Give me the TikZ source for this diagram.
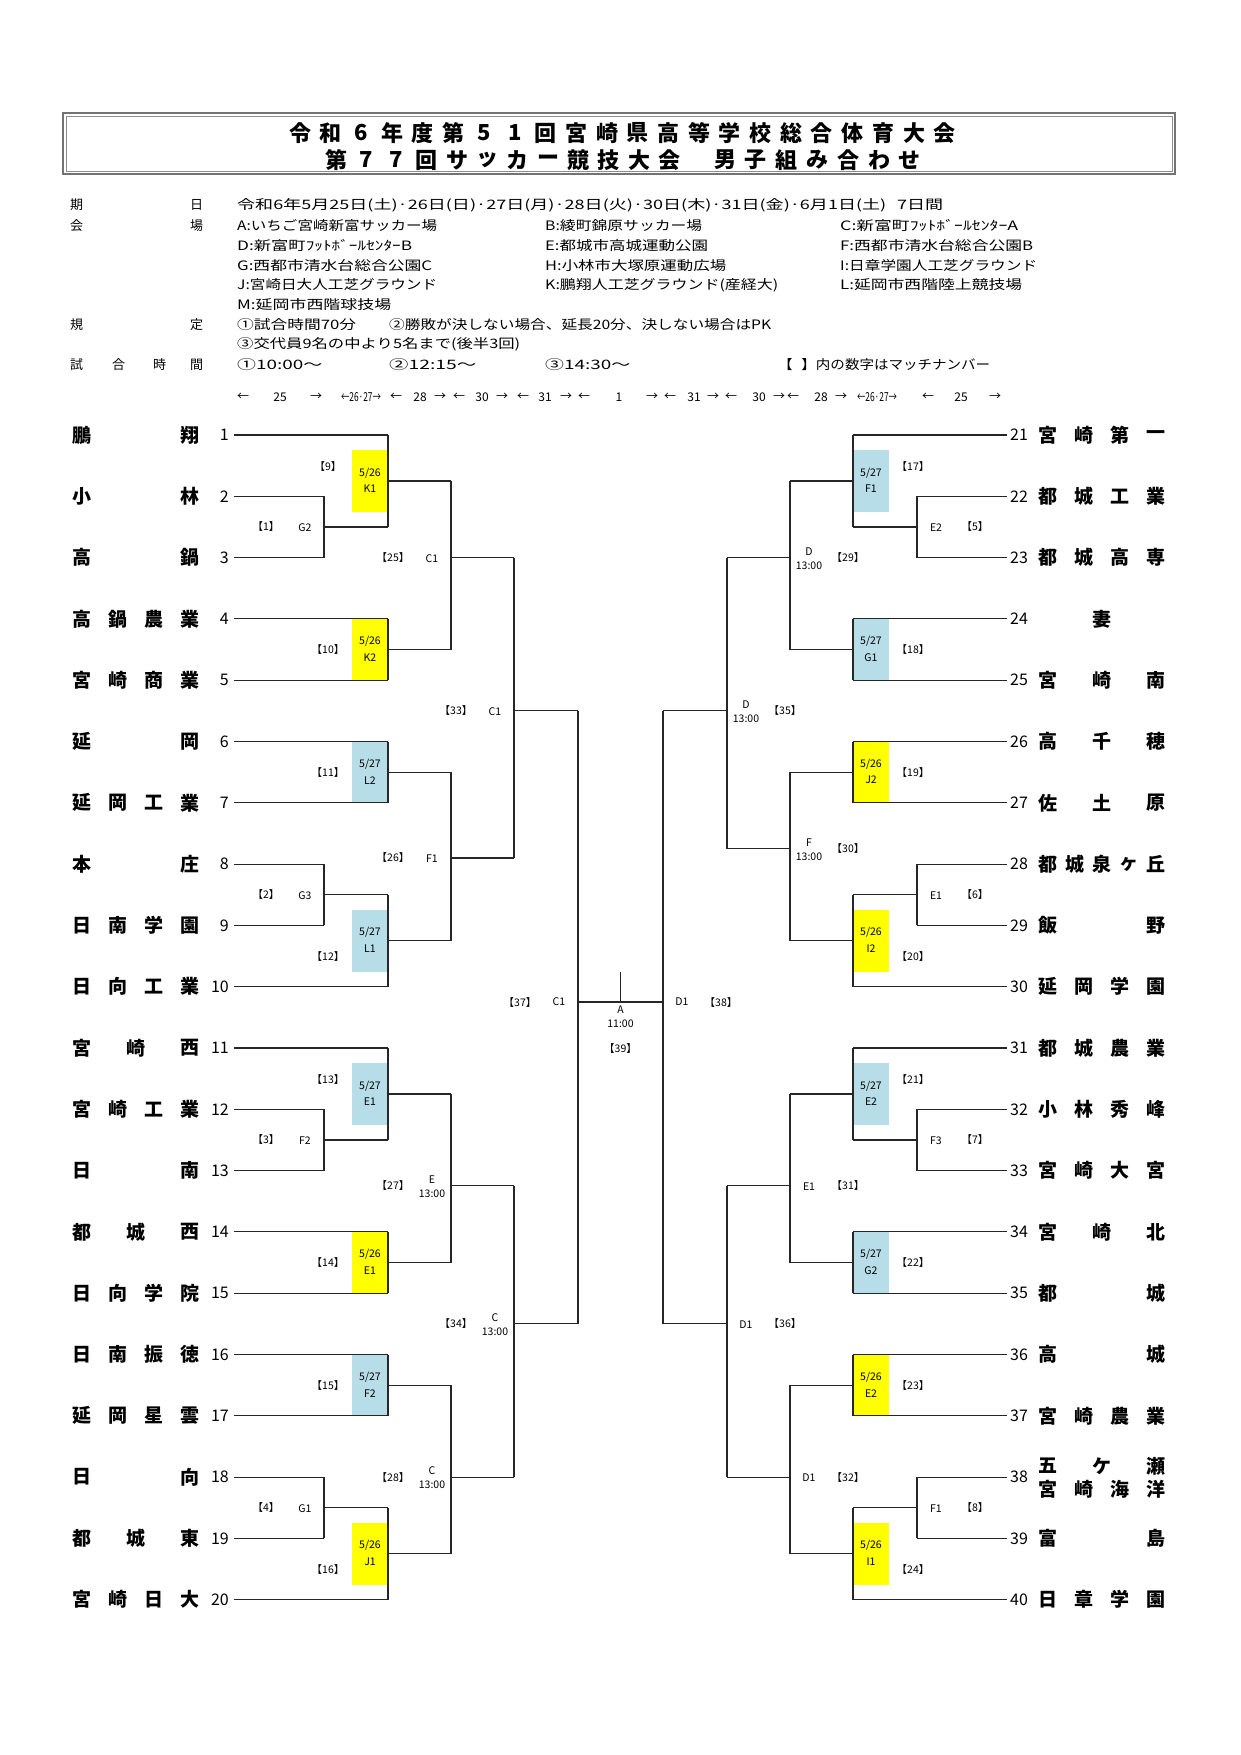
\documentclass[tikz,border=0pt]{standalone}
\usepackage{fontspec}
\usepackage{graphicx}
\setmainfont{Noto Sans CJK JP}
\definecolor{bxy}{HTML}{FFFF00}
\definecolor{bxb}{HTML}{B7DDE8}
\pgfmathdeclarefunction{R}{1}{\pgfmathparse{435+(#1-1)*61.3}}
\tikzset{
  ln/.style={line width=1.1pt, black!85},
  sm/.style={font=\fontsize{10.5}{14}\selectfont, inner sep=0pt, align=center},
  nm/.style={font=\fontsize{19}{19}\selectfont\bfseries, inner sep=0pt},
  nu/.style={font=\fontsize{16}{16}\selectfont, inner sep=0pt},
  inf/.style={font=\fontsize{13}{13}\selectfont, inner sep=0pt, anchor=west},
  tt/.style={font=\fontsize{22}{22}\selectfont\bfseries, inner sep=0pt},
  ar/.style={font=\fontsize{12}{12}\selectfont, inner sep=0pt}
}
% match with explicit output row: x, xout, ra, rb, rout, num, venue
\newcommand\gmo[7]{%
  \pgfmathsetmacro\ya{R(#3)}\pgfmathsetmacro\yb{R(#4)}\pgfmathsetmacro\ym{R(#5)}%
  \draw[ln] (#1,\ya) -- (#1,\yb);
  \draw[ln] (#1,\ym) -- (#2,\ym);
  \node[sm] at (#1-58,\ym) {【#6】};
  \node[sm] at (#1-19,\ym+1) {#7};}
% generic match at midpoint
\newcommand\gm[6]{\gmo{#1}{#2}{#3}{#4}{(#3+#4)/2}{#5}{#6}}
% box match: ra, rb, num, date, venue, colour, label offset
\newcommand\bm[7]{%
  \pgfmathsetmacro\ya{R(#1)}\pgfmathsetmacro\yb{R(#2)}\pgfmathsetmacro\ym{(\ya+\yb)/2}%
  \fill[#6] (352,\ym-31) rectangle (388,\ym+31);
  \draw[ln] (388,\ya) -- (388,\yb);
  \draw[ln] (388,\ym) -- (451,\ym);
  \node[sm] at (370,\ym-8) {#4};
  \node[sm] at (370,\ym+8) {#5};
  \node[sm] at (328,\ym+#7) {【#3】};}
\newcommand\teamlines{%
  \foreach \r/\x in {1/388,2/324,3/324,4/388,5/388,6/388,7/388,8/324,9/324,10/388,11/388,12/324,13/324,14/388,15/388,16/388,17/388,18/324,19/324,20/388}
    \draw[ln] (234,{R(\r)}) -- (\x,{R(\r)});}
% team name: x of first char, y, count, chars
\newcommand\tmn[4]{\pgfmathsetmacro\ty{#2}\foreach \c [count=\i] in {#4}{\node[nm] at ({#1+(\i-1)*108/(#3-1)},\ty) {\c};}}
\newcommand\rb[2]{\resizebox{#1pt}{11pt}{#2}}
\begin{document}
\begin{tikzpicture}[x=1pt,y=-1pt]
\useasboundingbox[fill=white] (0,0) rectangle (1240,1755);
% header
\draw[black!55, line width=1.2pt] (63,113) rectangle (1175,174);
\draw[black!45, line width=0.8pt] (66,116) rectangle (1172,171);
\foreach \c [count=\i] in {令,和,6,年,度,第,5,1,回,宮,崎,県,高,等,学,校,総,合,体,育,大,会}
  \node[tt] at ({300+(\i-1)*30.7},133) {\c};
\foreach \c [count=\i] in {第,7,7,回,サ,ッ,カ,ー,競,技,大,会}
  \node[tt] at ({336+(\i-1)*30.3},160) {\c};
\foreach \c [count=\i] in {男,子,組,み,合,わ,せ}
  \node[tt] at ({725+(\i-1)*30.8},160) {\c};
% info block
\foreach \a/\b/\y in {期/日/205,会/場/226,規/定/325}{
  \node[inf] at (70,\y) {\a}; \node[inf] at (190,\y) {\b};}
\foreach \a/\x in {試/70,合/112,時/153,間/190} \node[inf] at (\x,365) {\a};
\node[inf] at (237,205) {\rb{706}{令和6年5月25日(土)·26日(日)·27日(月)·28日(火)·30日(木)·31日(金)·6月1日(土)\hspace{0.6em}7日間}};
\node[inf] at (237,226) {\rb{200}{A:いちご宮崎新富サッカー場}};
\node[inf] at (545,226) {\rb{157}{B:綾町錦原サッカー場}};
\node[inf] at (840,226) {\rb{178}{C:新富町ﾌｯﾄﾎﾞｰﾙｾﾝﾀｰA}};
\node[inf] at (237,246) {\rb{175}{D:新富町ﾌｯﾄﾎﾞｰﾙｾﾝﾀｰB}};
\node[inf] at (545,246) {\rb{163}{E:都城市高城運動公園}};
\node[inf] at (840,246) {\rb{193}{F:西都市清水台総合公園B}};
\node[inf] at (237,266) {\rb{195}{G:西都市清水台総合公園C}};
\node[inf] at (545,266) {\rb{181}{H:小林市大塚原運動広場}};
\node[inf] at (840,266) {\rb{197}{I:日章学園人工芝グラウンド}};
\node[inf] at (237,285) {\rb{200}{J:宮崎日大人工芝グラウンド}};
\node[inf] at (545,285) {\rb{233}{K:鵬翔人工芝グラウンド(産経大)}};
\node[inf] at (840,285) {\rb{182}{L:延岡市西階陸上競技場}};
\node[inf] at (237,305) {\rb{154}{M:延岡市西階球技場}};
\node[inf] at (237,325) {\rb{119}{①試合時間70分}};
\node[inf] at (389,325) {\rb{382}{②勝敗が決しない場合、延長20分、決しない場合はPK}};
\node[inf] at (237,344) {\rb{283}{③交代員9名の中より5名まで(後半3回)}};
\node[inf] at (237,365) {\rb{85}{①10:00～}};
\node[inf] at (389,365) {\rb{87}{②12:15～}};
\node[inf] at (545,365) {\rb{85}{③14:30～}};
\node[inf] at (778,365) {\rb{212}{【\hspace{0.6em}】内の数字はマッチナンバー}};
\foreach \x/\t in {243/←,280/25,316/→,396/←,420/28,440/→,459/←,482/30,502/→,523/←,545/31,566/→,584/←,619/1,652/→,670/←,694/31,713/→,731/←,759/30,779/→,793/←,821/28,841/→,928/←,961/25,995/→}
  \node[ar] at (\x,397) {\t};
\node[ar] at (361,397) {\resizebox{40pt}{9pt}{←26·27→}};
\node[ar] at (877,397) {\resizebox{40pt}{9pt}{←26·27→}};
% ---- left half
\begin{scope}
\bm{1}{2.5}{9}{5/26}{K1}{bxy}{-14}
\bm{4}{5}{10}{5/26}{K2}{bxy}{0}
\bm{6}{7}{11}{5/27}{L2}{bxb}{0}
\bm{8.5}{10}{12}{5/27}{L1}{bxb}{16}
\bm{11}{12.5}{13}{5/27}{E1}{bxb}{-14}
\bm{14}{15}{14}{5/26}{E1}{bxy}{0}
\bm{16}{17}{15}{5/27}{F2}{bxb}{0}
\bm{18.5}{20}{16}{5/26}{J1}{bxy}{16}
\gm{324}{388}{2}{3}{1}{G2}
\gm{324}{388}{8}{9}{2}{G3}
\gm{324}{388}{12}{13}{3}{F2}
\gm{324}{388}{18}{19}{4}{G1}
\gmo{451}{514}{1.75}{4.5}{3}{25}{C1}
\gmo{451}{514}{6.5}{9.25}{7.9}{26}{F1}
\gmo{451}{514}{11.75}{14.5}{13.25}{27}{E\\13:00}
\gmo{451}{514}{16.5}{19.25}{18}{28}{C\\13:00}
\gmo{514}{578}{3}{7.9}{5.5}{33}{C1}
\gmo{514}{578}{13.25}{18}{15.5}{34}{C\\13:00}
\teamlines
\draw[ln] (578,{R(5.5)}) -- (578,{R(15.5)});
\draw[ln] (578,1002) -- (620.5,1002);
\node[sm] at (520,1002) {【37】};
\node[sm] at (559,1002) {C1};
\end{scope}
% ---- right half (mirrored)
\begin{scope}[xshift=1241pt, xscale=-1]
\bm{1}{2.5}{17}{5/27}{F1}{bxb}{-14}
\bm{4}{5}{18}{5/27}{G1}{bxb}{0}
\bm{6}{7}{19}{5/26}{J2}{bxy}{0}
\bm{8.5}{10}{20}{5/26}{I2}{bxy}{16}
\bm{11}{12.5}{21}{5/27}{E2}{bxb}{-14}
\bm{14}{15}{22}{5/27}{G2}{bxb}{0}
\bm{16}{17}{23}{5/26}{E2}{bxy}{0}
\bm{18.5}{20}{24}{5/26}{I1}{bxy}{16}
\gm{324}{388}{2}{3}{5}{E2}
\gm{324}{388}{8}{9}{6}{E1}
\gm{324}{388}{12}{13}{7}{F3}
\gm{324}{388}{18}{19}{8}{F1}
\gmo{451}{514}{1.75}{4.5}{3}{29}{D\\13:00}
\gmo{451}{514}{6.5}{9.25}{7.75}{30}{F\\13:00}
\gmo{451}{514}{11.75}{14.5}{13.25}{31}{E1}
\gmo{451}{514}{16.5}{19.25}{18}{32}{D1}
\gmo{514}{578}{3}{7.75}{5.5}{35}{D\\13:00}
\gmo{514}{578}{13.25}{18}{15.5}{36}{D1}
\teamlines
\draw[ln] (578,{R(5.5)}) -- (578,{R(15.5)});
\draw[ln] (578,1002) -- (620.5,1002);
\node[sm] at (520,1002) {【38】};
\node[sm] at (559,1002) {D1};
\end{scope}
% final
\draw[ln] (620.5,972) -- (620.5,1002);
\node[sm] at (620.5,1017) {A\\11:00};
\node[sm] at (620.5,1048) {【39】};
% numbers
\foreach \r in {1,...,20} \node[nu,anchor=east] at (229,{R(\r)}) {\r};
\foreach \r in {1,...,20} {\pgfmathtruncatemacro\n{\r+20}\node[nu,anchor=west] at (1010,{R(\r)}) {\n};}
% left names
\tmn{82}{R(1)}{2}{鵬,翔}
\tmn{82}{R(2)}{2}{小,林}
\tmn{82}{R(3)}{2}{高,鍋}
\tmn{82}{R(4)}{4}{高,鍋,農,業}
\tmn{82}{R(5)}{4}{宮,崎,商,業}
\tmn{82}{R(6)}{2}{延,岡}
\tmn{82}{R(7)}{4}{延,岡,工,業}
\tmn{82}{R(8)}{2}{本,庄}
\tmn{82}{R(9)}{4}{日,南,学,園}
\tmn{82}{R(10)}{4}{日,向,工,業}
\tmn{82}{R(11)}{3}{宮,崎,西}
\tmn{82}{R(12)}{4}{宮,崎,工,業}
\tmn{82}{R(13)}{2}{日,南}
\tmn{82}{R(14)}{3}{都,城,西}
\tmn{82}{R(15)}{4}{日,向,学,院}
\tmn{82}{R(16)}{4}{日,南,振,徳}
\tmn{82}{R(17)}{4}{延,岡,星,雲}
\tmn{82}{R(18)}{2}{日,向}
\tmn{82}{R(19)}{3}{都,城,東}
\tmn{82}{R(20)}{4}{宮,崎,日,大}
% right names
\tmn{1048}{R(1)}{4}{宮,崎,第,一}
\tmn{1048}{R(2)}{4}{都,城,工,業}
\tmn{1048}{R(3)}{4}{都,城,高,専}
\node[nm] at (1102,{R(4)}) {妻};
\tmn{1048}{R(5)}{3}{宮,崎,南}
\tmn{1048}{R(6)}{3}{高,千,穂}
\tmn{1048}{R(7)}{3}{佐,土,原}
\tmn{1048}{R(8)}{5}{都,城,泉,ヶ,丘}
\tmn{1048}{R(9)}{2}{飯,野}
\tmn{1048}{R(10)}{4}{延,岡,学,園}
\tmn{1048}{R(11)}{4}{都,城,農,業}
\tmn{1048}{R(12)}{4}{小,林,秀,峰}
\tmn{1048}{R(13)}{4}{宮,崎,大,宮}
\tmn{1048}{R(14)}{3}{宮,崎,北}
\tmn{1048}{R(15)}{2}{都,城}
\tmn{1048}{R(16)}{2}{高,城}
\tmn{1048}{R(17)}{4}{宮,崎,農,業}
\tmn{1048}{R(18)-11}{3}{五,ケ,瀬}
\tmn{1048}{R(18)+12}{4}{宮,崎,海,洋}
\tmn{1048}{R(19)}{2}{富,島}
\tmn{1048}{R(20)}{4}{日,章,学,園}
\end{tikzpicture}
\end{document}
